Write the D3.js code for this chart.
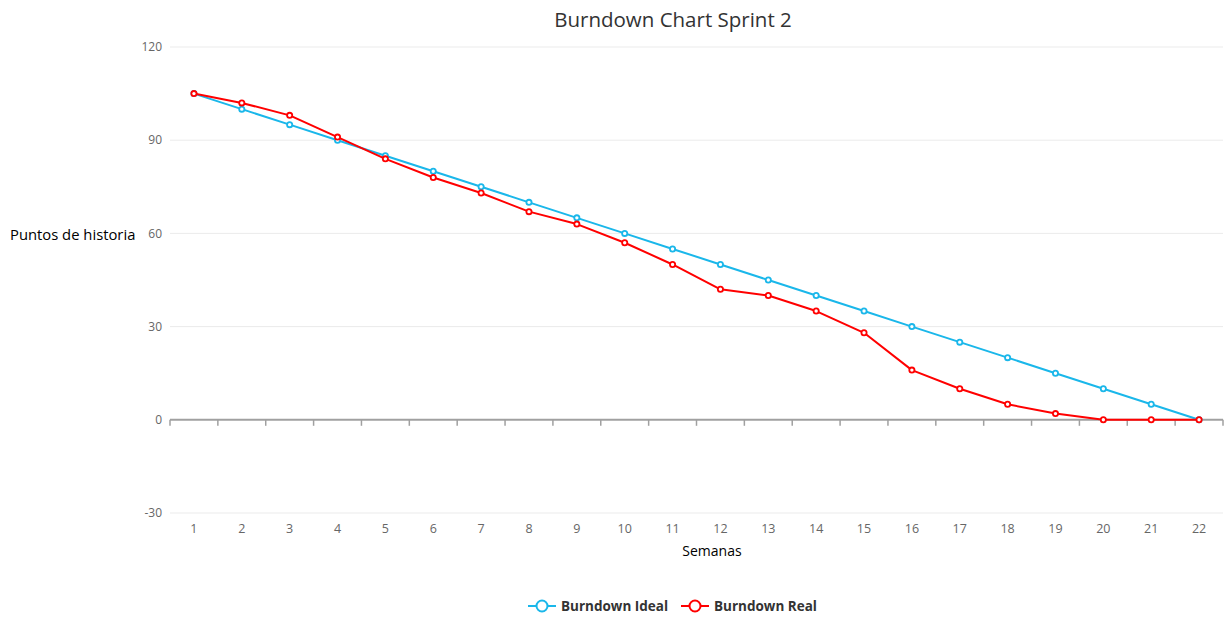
<!DOCTYPE html>
<html>
<head>
<meta charset="utf-8">
<script src="https://cdn.jsdelivr.net/npm/d3@7"></script>
<style>
  html, body { margin: 0; padding: 0; background: #fff; }
  svg { display: block; font-family: "Open Sans", "Noto Sans", sans-serif; }
</style>
</head>
<body>
<svg id="chart" width="1225" height="621"></svg>
<script>
// Sprint weeks and remaining story points
const weeks = ["1","2","3","4","5","6","7","8","9","10","11","12","13","14","15","16","17","18","19","20","21","22"];
const idealPoints = [105,100,95,90,85,80,75,70,65,60,55,50,45,40,35,30,25,20,15,10,5,0];
const realPoints  = [105,102,98,91,84,78,73,67,63,57,50,42,40,35,28,16,10,5,2,0,0,0];
const yTicks = [-30, 0, 30, 60, 90, 120];
const seriesNames = ["Burndown Ideal", "Burndown Real"];
const seriesColors = ["#1ab7ea", "#ff0000"];

const svg = d3.select("#chart");
const plotLeft = 170, plotRight = 1223, plotTop = 47, plotBottom = 513;

const x = d3.scaleBand().domain(weeks).range([plotLeft, plotRight]);
const y = d3.scaleLinear().domain([-30, 120]).range([plotBottom, plotTop]);

// Title
svg.append("text")
  .attr("x", 673).attr("y", 27)
  .attr("text-anchor", "middle")
  .attr("font-size", 20.5).attr("fill", "#333")
  .text("Burndown Chart Sprint 2");

// Horizontal grid
svg.append("g").selectAll("line")
  .data(yTicks.filter(d => d !== 0))
  .join("line")
  .attr("x1", plotLeft).attr("x2", plotRight)
  .attr("y1", d => y(d)).attr("y2", d => y(d))
  .attr("stroke", "#ebebeb").attr("stroke-width", 1);

// Y tick labels
svg.append("g").selectAll("text")
  .data(yTicks)
  .join("text")
  .attr("x", 162).attr("y", d => y(d))
  .attr("dy", "0.35em")
  .attr("text-anchor", "end")
  .attr("font-size", 12).attr("fill", "#666")
  .text(d => d);

// Zero axis with band-edge ticks
const zeroAxis = d3.axisBottom(x).tickSize(0).tickFormat("");
const gz = svg.append("g").attr("transform", `translate(0,${y(0)})`).call(zeroAxis);
gz.select(".domain").attr("stroke", "#a0a0a0").attr("stroke-width", 2).attr("d", `M${plotLeft},0H${plotRight}`);
const edges = weeks.map(w => x(w)).concat([x(weeks[weeks.length - 1]) + x.bandwidth()]);
svg.append("g").selectAll("line")
  .data(edges)
  .join("line")
  .attr("x1", d => d).attr("x2", d => d)
  .attr("y1", y(0)).attr("y2", y(0) + 6)
  .attr("stroke", "#a0a0a0").attr("stroke-width", 1.5);

// X category labels
svg.append("g").selectAll("text")
  .data(weeks)
  .join("text")
  .attr("x", d => x(d) + x.bandwidth() / 2)
  .attr("y", 533)
  .attr("text-anchor", "middle")
  .attr("font-size", 12.5).attr("fill", "#666")
  .text(d => d);

// Axis titles
svg.append("text")
  .attr("x", 712).attr("y", 556)
  .attr("text-anchor", "middle")
  .attr("font-size", 14).attr("fill", "#000")
  .text("Semanas");
svg.append("text")
  .attr("x", 10).attr("y", y(60) + 1)
  .attr("dy", "0.35em")
  .attr("font-size", 14.8).attr("fill", "#000")
  .text("Puntos de historia");

// Series
const series = [idealPoints, realPoints];
const line = d3.line()
  .x((d, i) => x(weeks[i]) + x.bandwidth() / 2)
  .y(d => y(d));

series.forEach((vals, s) => {
  const g = svg.append("g");
  g.append("path")
    .datum(vals)
    .attr("d", line)
    .attr("fill", "none")
    .attr("stroke", seriesColors[s])
    .attr("stroke-width", 2)
    .attr("stroke-linejoin", "round");
  g.selectAll("circle")
    .data(vals)
    .join("circle")
    .attr("cx", (d, i) => x(weeks[i]) + x.bandwidth() / 2)
    .attr("cy", d => y(d))
    .attr("r", 2.6)
    .attr("fill", "#fff")
    .attr("stroke", seriesColors[s])
    .attr("stroke-width", 1.8);
});

// Legend
const legendItems = [
  { name: seriesNames[0], color: seriesColors[0], x: 528 },
  { name: seriesNames[1], color: seriesColors[1], x: 681 }
];
const lg = svg.append("g");
legendItems.forEach(it => {
  const ly = 606;
  lg.append("line")
    .attr("x1", it.x).attr("x2", it.x + 28)
    .attr("y1", ly).attr("y2", ly)
    .attr("stroke", it.color).attr("stroke-width", 2);
  lg.append("circle")
    .attr("cx", it.x + 14).attr("cy", ly).attr("r", 5.5)
    .attr("fill", "#fff").attr("stroke", it.color).attr("stroke-width", 2);
  lg.append("text")
    .attr("x", it.x + 33).attr("y", ly)
    .attr("dy", "0.35em")
    .attr("font-size", 13.5).attr("font-weight", "bold").attr("fill", "#333")
    .text(it.name);
});
</script>
</body>
</html>
